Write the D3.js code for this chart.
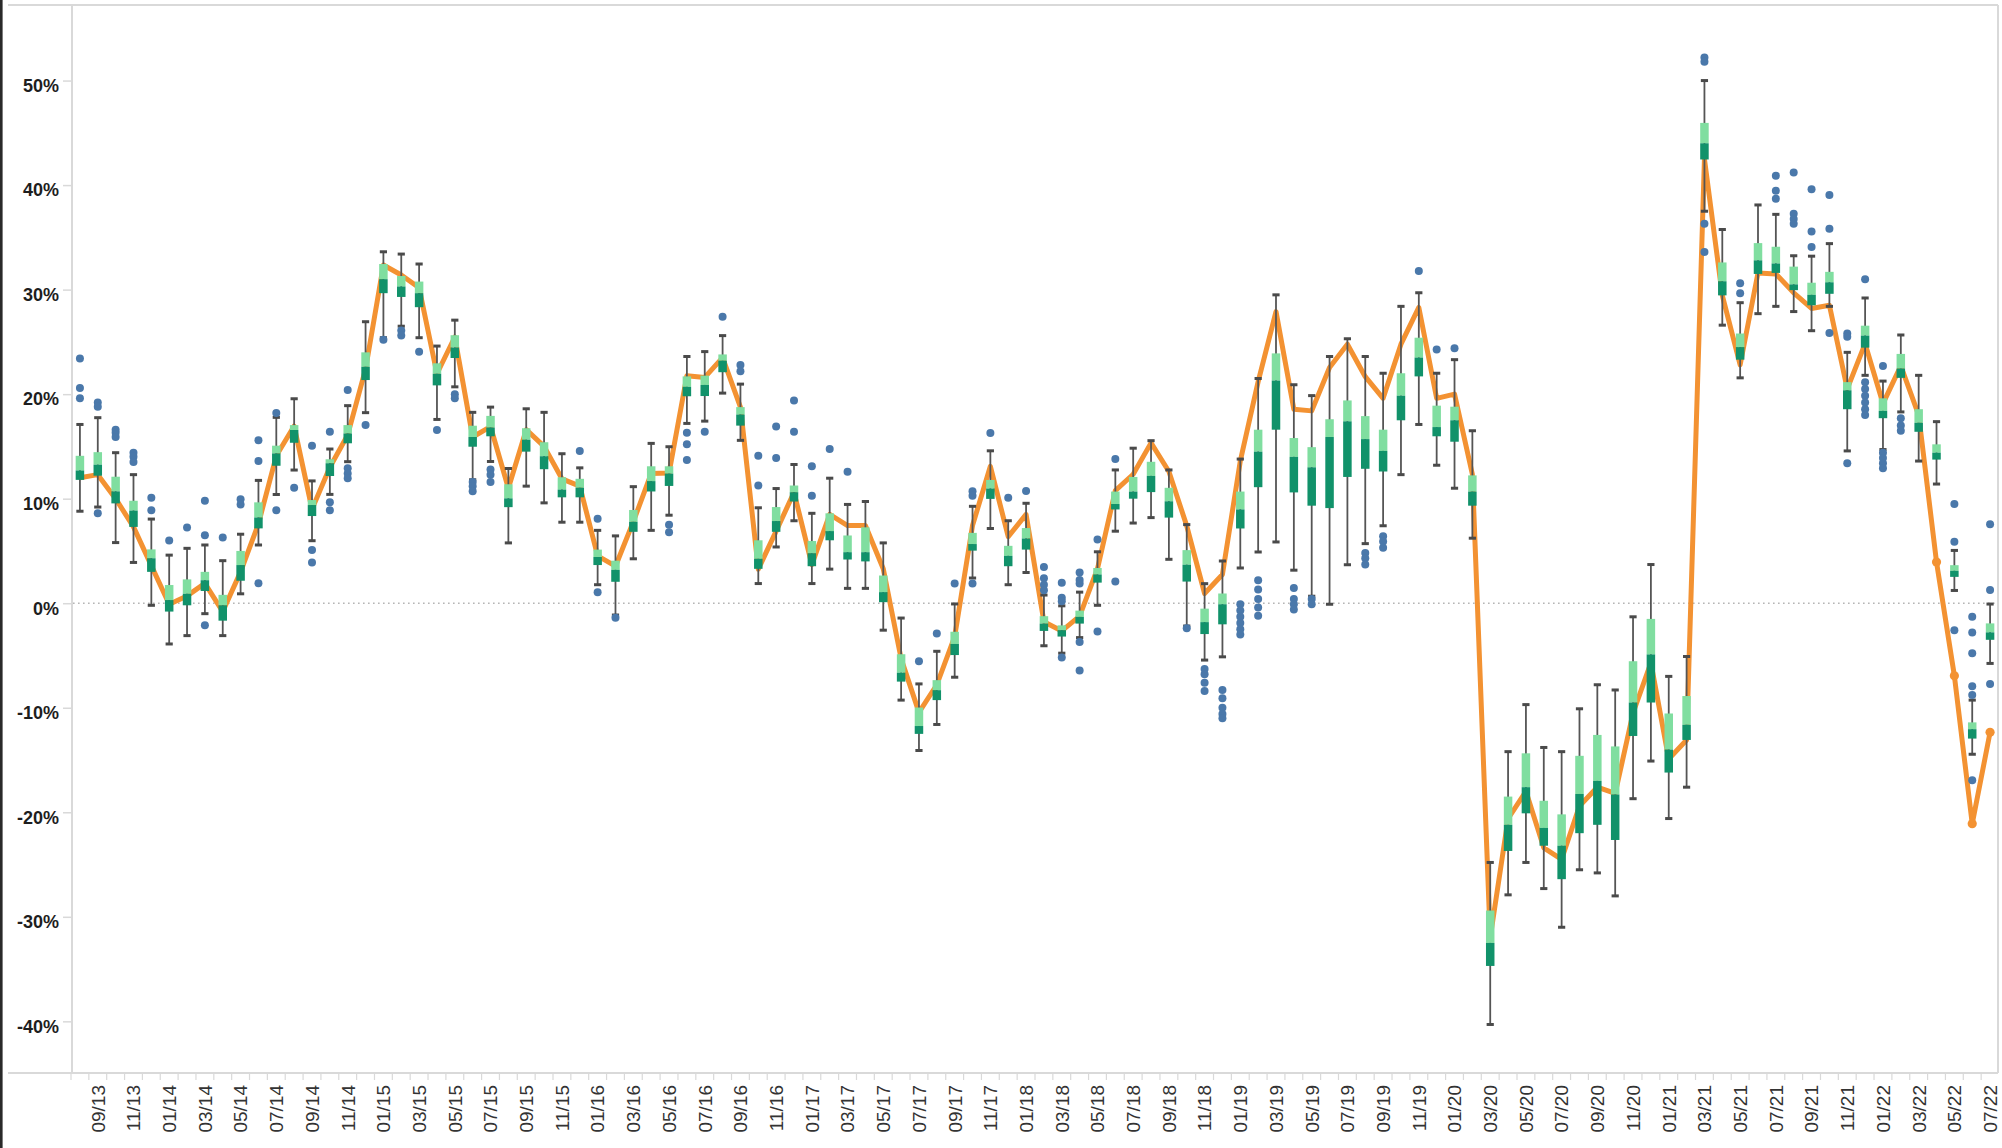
<!DOCTYPE html>
<html><head><meta charset="utf-8">
<script src="https://cdn.jsdelivr.net/npm/d3@7"></script>
<style>html,body{margin:0;padding:0;background:#fff;} svg{display:block;}</style>
</head><body>
<svg id="chart" width="2002" height="1148"></svg>
<script>
const months = [
 "08/13","09/13","10/13","11/13","12/13",
 "01/14","02/14","03/14","04/14","05/14","06/14","07/14","08/14","09/14","10/14","11/14","12/14",
 "01/15","02/15","03/15","04/15","05/15","06/15","07/15","08/15","09/15","10/15","11/15","12/15",
 "01/16","02/16","03/16","04/16","05/16","06/16","07/16","08/16","09/16","10/16","11/16","12/16",
 "01/17","02/17","03/17","04/17","05/17","06/17","07/17","08/17","09/17","10/17","11/17","12/17",
 "01/18","02/18","03/18","04/18","05/18","06/18","07/18","08/18","09/18","10/18","11/18","12/18",
 "01/19","02/19","03/19","04/19","05/19","06/19","07/19","08/19","09/19","10/19","11/19","12/19",
 "01/20","02/20","03/20","04/20","05/20","06/20","07/20","08/20","09/20","10/20","11/20","12/20",
 "01/21","02/21","03/21","04/21","05/21","06/21","07/21","08/21","09/21","10/21","11/21","12/21",
 "01/22","02/22","03/22","04/22","05/22","06/22","07/22"];

const whiskerLow = [8.8,9.2,5.8,3.9,-0.2,
 -3.9,-3.1,-1.0,-3.1,0.9,5.57,10.4,12.74,5.98,10.41,13.54,18.23,
 25.4,26.5,25.4,17.58,20.7,11.81,13.56,5.77,11.2,9.6,7.75,7.75,
 1.77,-1.13,4.25,6.97,8.42,17.2,17.42,20.1,15.58,1.88,5.38,7.89,
 1.88,3.26,1.42,1.42,-2.58,-9.27,-14.09,-11.6,-7.08,2.41,7.15,1.77,
 2.94,-4.07,-4.78,-3.29,-0.2,6.89,7.67,8.19,4.2,-2.18,-5.44,-5.13,
 3.37,4.9,5.86,3.16,0.67,-0.1,3.68,5.7,7.41,12.3,17.1,13.2,
 11.0,6.22,-40.3,-27.9,-24.8,-27.3,-31.0,-25.5,-25.8,-28.0,-18.7,-15.1,
 -20.6,-17.6,37.5,26.6,21.56,27.7,28.4,27.9,26.07,28.4,14.57,21.8,
 14.7,18.3,13.6,11.4,1.22,-14.45,-5.76];

const q1 = [11.8,12.2,9.55,7.3,3.0,
 -0.8,-0.2,1.17,-1.67,2.15,7.16,13.15,15.35,8.34,12.17,15.3,21.35,
 29.66,29.3,28.32,20.84,23.46,14.97,15.97,9.19,14.5,12.82,10.13,10.13,
 3.65,2.05,6.83,10.69,11.22,19.8,19.82,22.1,16.99,3.29,6.83,9.73,
 3.54,6.02,4.18,4.0,0.1,-7.5,-12.5,-9.27,-4.96,5.03,9.98,3.54,
 5.13,-2.65,-3.19,-1.95,1.97,8.97,10.0,10.63,8.19,2.07,-2.95,-2.02,
 7.15,11.1,16.6,10.6,9.33,9.1,12.08,12.86,12.6,17.5,21.7,15.97,
 15.45,9.33,-34.7,-23.7,-20.1,-23.2,-26.4,-22.0,-21.2,-22.65,-12.7,-9.5,
 -16.2,-13.08,42.45,29.45,23.3,31.5,31.6,29.95,28.5,29.6,18.56,24.45,
 17.7,21.56,16.4,13.74,2.52,-12.95,-3.5];

const median = [12.7,13.25,10.7,8.86,4.3,
 0.3,0.9,2.2,-0.2,3.65,8.2,14.33,16.57,9.39,13.39,16.24,22.62,
 31.0,30.3,29.66,21.95,24.46,15.9,16.81,10.03,15.64,14.06,10.87,11.05,
 4.42,3.19,7.79,11.68,12.4,20.7,20.88,23.2,18.05,4.25,7.86,10.62,
 4.78,6.9,4.88,4.88,1.06,-6.65,-11.75,-8.32,-3.9,5.66,10.97,4.53,
 6.19,-1.95,-2.58,-1.31,2.75,9.49,10.68,12.18,9.75,3.68,-1.81,-0.1,
 8.97,14.5,21.3,14.0,13.0,15.9,17.4,15.7,14.57,19.85,23.5,16.85,
 17.5,10.68,-32.5,-21.2,-17.6,-21.5,-23.2,-18.25,-17.0,-18.3,-9.5,-4.9,
 -14.0,-11.63,44.0,30.8,24.5,32.8,32.5,30.5,29.5,30.7,20.37,25.6,
 18.4,22.45,17.26,14.4,3.1,-12.05,-2.79];

const q3 = [14.1,14.45,12.1,9.8,5.15,
 1.74,2.28,3.0,0.8,5.0,9.65,15.07,17.04,9.87,13.77,17.04,24.0,
 32.45,31.3,30.77,22.95,25.64,16.98,17.92,11.38,16.74,15.4,12.05,11.9,
 5.13,4.07,8.92,13.1,13.1,21.7,21.77,23.8,18.76,6.02,9.2,11.26,
 5.95,8.6,6.48,7.26,2.65,-4.88,-9.98,-7.36,-2.73,6.73,11.79,5.49,
 7.19,-1.24,-2.12,-0.71,3.37,10.68,12.08,13.53,11.04,5.08,-0.52,0.93,
 10.68,16.6,23.9,15.8,14.93,17.6,19.4,17.9,16.6,22.0,25.4,18.9,
 18.8,12.23,-29.4,-18.5,-14.36,-18.9,-20.2,-14.6,-12.6,-13.7,-5.55,-1.5,
 -10.55,-8.88,45.95,32.6,25.8,34.45,34.1,32.2,30.66,31.7,21.15,26.55,
 19.6,23.85,18.56,15.2,3.64,-11.4,-1.93];

const whiskerHigh = [17.1,17.75,14.4,12.3,8.05,
 4.6,5.25,5.57,4.07,6.6,11.75,17.78,19.56,11.7,14.75,18.9,26.93,
 33.62,33.4,32.45,24.6,27.08,18.26,18.76,12.89,18.6,18.26,14.3,12.95,
 6.97,6.44,11.15,15.29,14.97,23.6,24.07,25.6,20.96,9.13,10.97,13.27,
 8.6,11.96,9.45,9.73,5.77,-1.42,-7.72,-4.6,-0.07,9.27,14.58,7.89,
 9.56,0.78,-0.25,1.06,4.92,12.75,14.83,15.55,12.75,7.52,1.87,4.04,
 13.79,21.5,29.5,20.9,19.86,23.6,25.3,23.6,22.0,28.4,29.7,22.0,
 23.3,16.5,-24.8,-14.2,-9.7,-13.8,-14.2,-10.1,-7.8,-8.3,-1.3,3.7,
 -7.0,-5.1,50.0,35.75,28.75,38.1,37.2,33.24,33.2,34.4,24.0,29.2,
 21.25,25.66,21.8,17.37,5.05,-9.27,-0.08];

const meanLine = [12.0,12.3,10.0,7.3,3.6,
 -0.1,0.7,1.9,-0.8,3.0,7.6,14.1,16.95,9.0,13.0,16.1,22.4,
 32.35,31.4,30.17,21.95,25.47,15.9,16.9,11.0,16.6,15.0,11.9,11.2,
 4.53,3.54,7.8,12.4,12.46,21.77,21.6,23.5,18.76,3.26,6.9,10.6,
 3.7,8.5,7.43,7.43,3.3,-5.3,-10.44,-7.8,-3.2,7.43,13.1,6.37,
 8.5,-1.77,-2.65,-1.24,3.3,10.78,12.34,15.34,12.6,7.4,0.93,2.75,
 13.6,21.2,27.9,18.56,18.4,22.55,24.78,21.67,19.6,24.78,28.3,19.6,
 20.0,12.34,-32.0,-20.6,-18.0,-23.4,-24.5,-19.4,-17.6,-18.2,-10.5,-5.7,
 -14.9,-13.08,42.5,29.45,22.8,31.6,31.5,29.7,28.2,28.5,20.5,24.83,
 19.1,22.7,18.0,3.94,-6.94,-21.1,-12.35];

const outliers = [
 [23.4,20.6,19.6],[19.2,18.8,8.6],[16.6,16.3,15.9],[14.4,14.0,13.5],[10.1,8.9],
 [6.0],[7.25],[9.8,6.5,-2.1],[6.28],[9.95,9.45],[15.6,13.6,1.9],[18.2,8.9],[11.05],[15.07,5.09,3.9],[16.4,9.65,8.9],[20.4,12.9,12.4,11.95],[17.05],
 [25.2],[26.1,25.6],[24.06],[16.58],[20.0,19.6],[11.6,11.2,10.7],[12.8,12.3,11.6],[],[],[],[],[14.57],
 [8.07,1.06],[-1.4],[],[],[7.5,6.8],[16.3,15.2,13.7],[16.4],[27.4],[22.8,22.2],[14.1,11.26],[16.9,13.9],[19.4,16.4],
 [13.1,10.27],[14.76],[12.57],[],[],[],[-5.56],[-2.9],[1.88],[10.7,10.27,1.88],[16.28],[10.09],
 [10.73],[3.47,2.4,1.77,1.24],[1.95,0.53,0.18,-5.2],[2.94,2.23,1.88,-3.7,-6.44],[6.1,-2.7],[13.8,2.07],[],[],[],[-2.4],[-6.3,-6.8,-7.6,-8.4],[-8.3,-9.1,-10.0,-10.6,-11.0],
 [-0.1,-0.7,-1.3,-1.9,-2.5,-3.0],[2.2,1.3,0.4,-0.4,-1.2],[],[1.45,0.41,-0.1,-0.6],[0.4,-0.1],[],[],[4.8,4.3,3.7],[6.4,5.9,5.3],[],[31.78],[24.26],
 [24.4],[],[],[],[],[],[],[],[],[],[],[],
 [],[],[52.2,51.8,36.3,33.6],[],[30.6,29.65],[],[40.9,39.45,38.7],[41.2,37.25,36.75,36.3],[39.6,35.55,34.07],[39.05,35.83,25.85],[25.8,25.5,13.4],[31.0,21.15,20.5,19.85,19.2,18.56,18.0],
 [22.7,14.4,13.9,13.4,12.9],[17.7,17.0,16.5],[],[],[9.5,5.88,-2.58],[-1.3,-2.8,-4.78,-7.95,-8.78,-16.93],[7.55,1.26,-7.73]];

// months whose mean point shows a visible marker in the original
const markedMonths = ["04/22","05/22","06/22","07/22"];

const yTicks = [-40,-30,-20,-10,0,10,20,30,40,50];
const xTickLabels = months.filter(m => (+m.slice(0,2)) % 2 === 1);

const svg = d3.select("#chart");
const plotLeft = 71, plotRight = 1999, plotTop = 5.3, plotBottom = 1073.6;
const x = d3.scaleBand().domain(months).range([plotLeft, plotRight]).padding(0);
const y = d3.scaleLinear().domain([-45, 57.2]).range([plotBottom, plotTop]);
const cx = m => x(m) + x.bandwidth() / 2;

const rows = months.map((m, i) => ({m, lo: whiskerLow[i], q1: q1[i], med: median[i], q3: q3[i], hi: whiskerHigh[i], mean: meanLine[i], out: outliers[i]}));

const frame = "#d9d9d9";
svg.append("rect").attr("x",0).attr("y",0).attr("width",2.6).attr("height",1148).attr("fill","#2a2a2a");
svg.append("line").attr("x1",8).attr("x2",1998).attr("y1",5).attr("y2",5).attr("stroke",frame).attr("stroke-width",2);
svg.append("line").attr("x1",1998).attr("x2",1998).attr("y1",5).attr("y2",1073).attr("stroke",frame).attr("stroke-width",2);
svg.append("line").attr("x1",8).attr("x2",1998).attr("y1",1073).attr("y2",1073).attr("stroke",frame).attr("stroke-width",2.2);
svg.append("line").attr("x1",72).attr("x2",72).attr("y1",5).attr("y2",1073).attr("stroke",frame).attr("stroke-width",2);

const yAxis = svg.append("g").attr("transform","translate(72,0)")
  .call(d3.axisLeft(y).tickValues(yTicks).tickFormat(d => d + "%").tickSize(9).tickPadding(4));
yAxis.select(".domain").remove();
yAxis.selectAll(".tick line").attr("stroke", frame).attr("stroke-width", 1.5);
yAxis.selectAll(".tick text").attr("fill","#1e1e1e").attr("font-family","'Liberation Sans', Arial, sans-serif")
  .attr("font-size", 18).attr("font-weight","bold").attr("dy","0.6em");

svg.append("g").selectAll("line").data(months).join("line")
  .attr("x1", m => x(m)).attr("x2", m => x(m)).attr("y1",1073).attr("y2",1080)
  .attr("stroke", frame).attr("stroke-width",1.2);

const xAxis = svg.append("g").attr("transform","translate(0,1073)")
  .call(d3.axisBottom(x).tickValues(xTickLabels).tickSize(0));
xAxis.select(".domain").remove();
xAxis.selectAll(".tick text")
  .attr("transform","rotate(-90)").attr("x",-12).attr("y",0).attr("dy","0.36em")
  .attr("text-anchor","end").attr("fill","#333").attr("font-family","'Liberation Sans', Arial, sans-serif")
  .attr("font-size",19);

svg.append("line").attr("x1",73).attr("x2",1997).attr("y1",y(0)).attr("y2",y(0))
  .attr("stroke","#b5b5b5").attr("stroke-width",1.6).attr("stroke-dasharray","1.6,3.4");

const orange = "#f39232";
svg.append("path").datum(rows)
  .attr("d", d3.line().x(d => cx(d.m)).y(d => y(d.mean)))
  .attr("fill","none").attr("stroke",orange).attr("stroke-width",5).attr("stroke-linejoin","round");
svg.append("g").selectAll("circle").data(rows.filter(d => markedMonths.includes(d.m))).join("circle")
  .attr("cx", d => cx(d.m)).attr("cy", d => y(d.mean)).attr("r", 4.6).attr("fill", orange);

const wg = svg.append("g");
wg.selectAll("line.w").data(rows).join("line").attr("class","w")
  .attr("x1", d => cx(d.m)).attr("x2", d => cx(d.m)).attr("y1", d => y(d.hi)).attr("y2", d => y(d.lo))
  .attr("stroke","#555").attr("stroke-width",1.8);
["hi","lo"].forEach(k => {
  wg.selectAll("line.c"+k).data(rows).join("line").attr("class","c"+k)
    .attr("x1", d => cx(d.m) - 3.6).attr("x2", d => cx(d.m) + 3.6)
    .attr("y1", d => y(d[k])).attr("y2", d => y(d[k]))
    .attr("stroke","#4a4a4a").attr("stroke-width",3);
});

const bw = 8.5;
const bg = svg.append("g");
bg.selectAll("rect.up").data(rows).join("rect").attr("class","up")
  .attr("x", d => cx(d.m) - bw/2).attr("width", bw)
  .attr("y", d => y(d.q3)).attr("height", d => y(d.med) - y(d.q3))
  .attr("fill","#80dea0");
bg.selectAll("rect.dn").data(rows).join("rect").attr("class","dn")
  .attr("x", d => cx(d.m) - bw/2).attr("width", bw)
  .attr("y", d => y(d.med)).attr("height", d => y(d.q1) - y(d.med))
  .attr("fill","#11926a");

const pts = rows.flatMap(d => d.out.map(v => ({m: d.m, v})));
svg.append("g").selectAll("circle").data(pts).join("circle")
  .attr("cx", d => cx(d.m)).attr("cy", d => y(d.v)).attr("r", 4).attr("fill","#4a78aa");
</script>
</body></html>
